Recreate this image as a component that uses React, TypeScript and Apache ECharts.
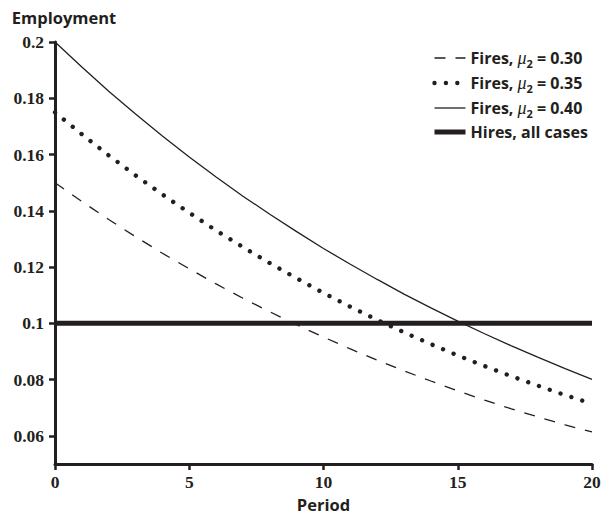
import React, { useEffect, useRef } from "react";
import * as echarts from "echarts";

const periods = [0, 1, 2, 3, 4, 5, 6, 7, 8, 9, 10, 11, 12, 13, 14, 15, 16, 17, 18, 19, 20];
const fires030 = [0.15, 0.1433, 0.1369, 0.1308, 0.1249, 0.1194, 0.114, 0.1089, 0.1041, 0.0995, 0.0951, 0.0909, 0.0869, 0.0831, 0.0795, 0.076, 0.0727, 0.0696, 0.0667, 0.0639, 0.0614];
const fires035 = [0.175, 0.1672, 0.1597, 0.1526, 0.1458, 0.1393, 0.133, 0.1271, 0.1214, 0.116, 0.1108, 0.1059, 0.1012, 0.0968, 0.0926, 0.0886, 0.0848, 0.0812, 0.0778, 0.0745, 0.0714];
const fires040 = [0.2, 0.1911, 0.1825, 0.1744, 0.1666, 0.1591, 0.152, 0.1452, 0.1388, 0.1326, 0.1266, 0.121, 0.1156, 0.1104, 0.1055, 0.1008, 0.0963, 0.092, 0.0879, 0.0839, 0.0801];
const hires = [0.1, 0.1, 0.1, 0.1, 0.1, 0.1, 0.1, 0.1, 0.1, 0.1, 0.1, 0.1, 0.1, 0.1, 0.1, 0.1, 0.1, 0.1, 0.1, 0.1, 0.1];
const yTicks = [0.06, 0.08, 0.1, 0.12, 0.14, 0.16, 0.18, 0.2];
const seriesNames = ["Fires, μ2 = 0.30", "Fires, μ2 = 0.35", "Fires, μ2 = 0.40", "Hires, all cases"];

const INK = "#231f20";
const SANS = "'Open Sans', 'Noto Sans', sans-serif";
const SERIF = "'Liberation Serif', 'DejaVu Serif', serif";

const lineStyles: any[] = [
  { color: INK, width: 1.3, type: [11, 10] },
  { color: INK, width: 4.4, type: [0.01, 11.4], cap: "round" },
  { color: INK, width: 1.3, type: "solid" },
  { color: INK, width: 5, type: "solid" },
];

const pairs = (ys: number[]) => periods.map((p, i) => [p, ys[i]]);

export default function App() {
  const ref = useRef<HTMLDivElement>(null);
  useEffect(() => {
    if (!ref.current) return;
    const chart = echarts.init(ref.current, undefined, { renderer: "svg" });
    const lineBase = { type: "line" as const, symbol: "none", showSymbol: false, smooth: false, silent: true };
    const hidden = { color: "rgba(0,0,0,0)", borderColor: "rgba(0,0,0,0)", borderWidth: 0 };
    chart.setOption({
      animation: false,
      backgroundColor: "#ffffff",
      grid: { left: 55, right: 21, top: 42, bottom: 54, containLabel: false },
      legend: {
        orient: "vertical",
        left: 427,
        top: 44,
        itemWidth: 31,
        itemHeight: 14,
        itemGap: 5,
        selectedMode: false,
        itemStyle: hidden,
        data: seriesNames.map((n, i) => ({ name: n, lineStyle: lineStyles[i], itemStyle: hidden })),
        formatter: (name: string) => {
          const m = name.match(/^Fires, μ2 = (.*)$/);
          if (m) return `{a|Fires, }{m|μ}{s|2}{a| = ${m[1]}}`;
          return `{a|${name}}`;
        },
        textStyle: {
          color: INK,
          rich: {
            a: { fontFamily: SANS, fontWeight: "bold", fontSize: 16, lineHeight: 22, color: INK },
            m: { fontFamily: SERIF, fontStyle: "italic", fontSize: 18, lineHeight: 22, color: INK },
            s: { fontFamily: SANS, fontWeight: "bold", fontSize: 11, lineHeight: 12, verticalAlign: "bottom", color: INK },
          },
        },
      },
      xAxis: {
        type: "value",
        min: 0,
        max: 20,
        interval: 5,
        name: "Period",
        nameLocation: "middle",
        nameGap: 32,
        nameTextStyle: { fontFamily: SANS, fontWeight: "bold", fontSize: 16.5, color: INK },
        axisLine: { show: true, onZero: false, lineStyle: { color: INK, width: 3 } },
        axisTick: { show: true, inside: false, length: 6, lineStyle: { color: INK, width: 2.5 } },
        axisLabel: { margin: 9, fontFamily: SERIF, fontWeight: "bold", fontSize: 17.5, color: INK },
        splitLine: { show: false },
      },
      yAxis: {
        type: "value",
        min: 0.05,
        max: 0.2,
        name: "Employment",
        nameLocation: "end",
        nameGap: 16,
        nameTextStyle: { fontFamily: SANS, fontWeight: "bold", fontSize: 16.5, color: INK, align: "center", padding: [0, 0, 0, 18] },
        axisLine: { show: true, onZero: false, lineStyle: { color: INK, width: 3 } },
        axisTick: { show: true, inside: false, length: 6, lineStyle: { color: INK, width: 2.5 }, customValues: yTicks },
        axisLabel: { margin: 11, fontFamily: SERIF, fontWeight: "bold", fontSize: 17.5, color: INK, customValues: yTicks, formatter: (v: number) => String(v) },
        splitLine: { show: false },
      },
      series: [
        { ...lineBase, name: seriesNames[0], data: pairs(fires030), lineStyle: lineStyles[0], itemStyle: { color: INK } },
        { ...lineBase, name: seriesNames[1], data: pairs(fires035), lineStyle: lineStyles[1], itemStyle: { color: INK } },
        { ...lineBase, name: seriesNames[2], data: pairs(fires040), lineStyle: lineStyles[2], itemStyle: { color: INK } },
        { ...lineBase, name: seriesNames[3], data: pairs(hires), lineStyle: lineStyles[3], itemStyle: { color: INK } },
      ],
    });
    return () => chart.dispose();
  }, []);
  return <div ref={ref} style={{ position: "absolute", left: 0, top: 0, width: 613, height: 518 }} />;
}
